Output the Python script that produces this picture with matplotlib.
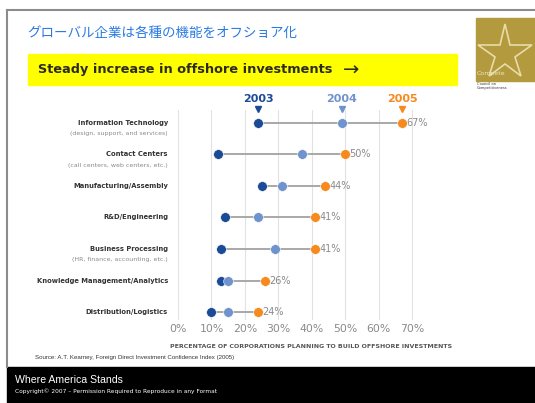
import matplotlib.pyplot as plt
from matplotlib.patches import Rectangle, Polygon

plt.rcParams['font.family'] = ['DejaVu Sans', 'Noto Sans CJK JP']

categories = [
    "Information Technology",
    "Contact Centers",
    "Manufacturing/Assembly",
    "R&D/Engineering",
    "Business Processing",
    "Knowledge Management/Analytics",
    "Distribution/Logistics",
]
subtitles = [
    "(design, support, and services)",
    "(call centers, web centers, etc.)",
    "",
    "",
    "(HR, finance, accounting, etc.)",
    "",
    "",
]
years = ["2003", "2004", "2005"]
values_2003 = [24, 12, 25, 14, 13, 13, 10]
values_2004 = [49, 37, 31, 24, 29, 15, 15]
values_2005 = [67, 50, 44, 41, 41, 26, 24]
xticks = [0, 10, 20, 30, 40, 50, 60, 70]

W, H = 535, 403
fig = plt.figure(figsize=(W / 100, H / 100), dpi=100)


def fx(px):
    return px / W


def fy(py):
    return 1 - py / H


# slide frame
fig.add_artist(plt.Line2D([fx(7), 1], [fy(10), fy(10)], color="#8c8c8c", lw=1.5))
fig.add_artist(plt.Line2D([fx(7), fx(7)], [fy(10), fy(367)], color="#8c8c8c", lw=1.5))
fig.add_artist(Rectangle((fx(7), 0), 1 - fx(7), fy(367), color="black", zorder=1))

fig.text(fx(27), fy(33), "グローバル企業は各種の機能をオフショア化", color="#2a7ae2",
         fontsize=9.7, va="center", family=["Noto Sans CJK JP", "DejaVu Sans"])

# yellow banner
fig.add_artist(Rectangle((fx(28), fy(85)), fx(457) - fx(28), fy(54) - fy(85),
                         color="#ffff00", zorder=1))
fig.text(fx(38), fy(70), "Steady increase in offshore investments",
         fontsize=9.3, fontweight="bold", color="#2b2b1e", va="center")
fig.text(fx(343), fy(70), "\u2192", fontsize=14, color="#2b2b1e", va="center")

# logo
fig.add_artist(Rectangle((fx(476), fy(81)), 1 - fx(476), fy(18) - fy(81),
                         color="#b49a3e", zorder=1))
star = Polygon([(fx(505), fy(24)), (fx(510), fy(45)), (fx(532), fy(45)), (fx(515), fy(57)),
                (fx(521), fy(76)), (fx(505), fy(64)), (fx(489), fy(76)), (fx(495), fy(57)),
                (fx(478), fy(45)), (fx(500), fy(45))],
               closed=True, fill=False, ec="#e8dca8", lw=1.2, zorder=2)
fig.add_artist(star)
fig.text(fx(477), fy(74), "Compete", fontsize=4.5, color="#ece4c0", va="center")
fig.text(fx(477), fy(86), "Council on\nCompetitiveness", fontsize=2.6, color="#333333",
         va="center", linespacing=0.9)

# dumbbell chart
ax = fig.add_axes([fx(170), fy(320), fx(420) - fx(170), fy(110) - fy(320)])
ax.set_xlim(-2.4, 72.4)
ax.set_ylim(6.25, -0.4)
for s in ax.spines.values():
    s.set_visible(False)
ax.set_xticks(xticks)
ax.set_xticklabels([f"{t}%" for t in xticks], fontsize=7.8, color="#8a8a8a")
ax.tick_params(axis="x", length=0, pad=3)
ax.set_yticks([])
ax.grid(axis="x", color="#e2e2e2", lw=0.8)
ax.set_axisbelow(True)

colors = ["#1b4a96", "#6f93cc", "#f58a1f"]
rows = range(len(categories))
for i in rows:
    lo = min(values_2003[i], values_2004[i], values_2005[i])
    hi = max(values_2003[i], values_2004[i], values_2005[i])
    ax.plot([lo, hi], [i, i], color="#a8a8a8", lw=1.4, zorder=2)
    ax.text(values_2005[i] + 1.2, i, f"{values_2005[i]}%", fontsize=7,
            color="#8a8a8a", va="center")
for vals, c in zip([values_2003, values_2004, values_2005], colors):
    ax.plot(vals, list(rows), "o", color=c, ms=7, mec="white", mew=0.4, zorder=3)

# year headers over the first row
for vals, c, yr in zip([values_2003, values_2004, values_2005], colors, years):
    ax.text(vals[0], -0.75, yr, color=c, fontsize=8, fontweight="bold",
            ha="center", va="center", clip_on=False)
    ax.plot(vals[0], -0.42, "v", color=c, ms=4, clip_on=False)

for i, (name, sub) in enumerate(zip(categories, subtitles)):
    ax.text(-3, i, name, fontsize=4.85, fontweight="bold", color="#333333",
            ha="right", va="center")
    if sub:
        ax.text(-3, i + 0.35, sub, fontsize=4.5, color="#8a8a8a",
                ha="right", va="center")

fig.text(fx(311), fy(347), "PERCENTAGE OF CORPORATIONS PLANNING TO BUILD OFFSHORE INVESTMENTS",
         fontsize=4.5, fontweight="bold", color="#555555", ha="center", va="center")
fig.text(fx(35), fy(357), "Source: A.T. Kearney, Foreign Direct Investment Confidence Index (2005)",
         fontsize=4.4, color="#333333", va="center", family="Liberation Sans")

fig.text(fx(15), fy(380), "Where America Stands", fontsize=7.6, color="white", va="center",
         family="Liberation Sans")
fig.text(fx(15), fy(391), "Copyright\u00a9 2007 \u2013 Permission Required to Reproduce in any Format",
         fontsize=4.2, color="white", va="center")

fig.savefig("out.png", dpi=100)
